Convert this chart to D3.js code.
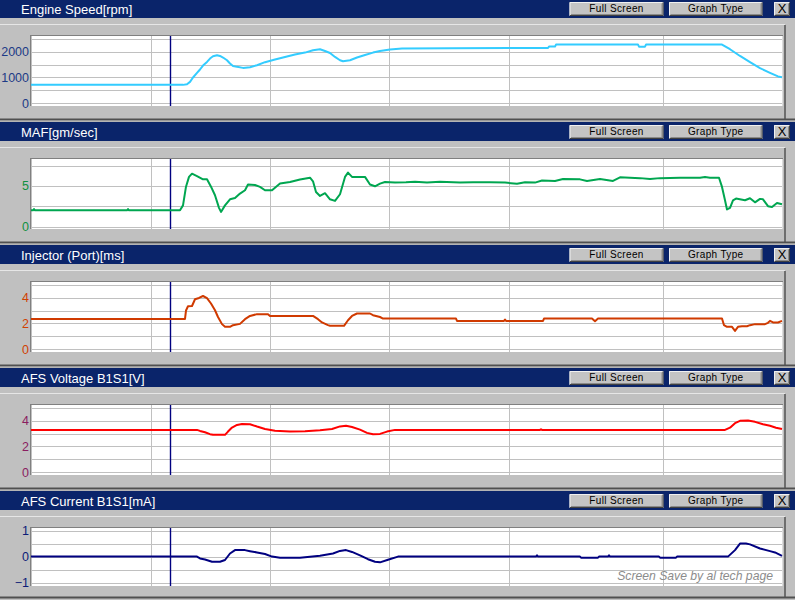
<!DOCTYPE html>
<html><head><meta charset="utf-8">
<script src="https://cdn.jsdelivr.net/npm/d3@7"></script>
<style>
html,body{margin:0;padding:0;background:#c0c0c0;overflow:hidden;}
svg{display:block;font-family:"Liberation Sans",Arial,sans-serif;}
</style></head><body>
<svg id="chart" width="795" height="600"></svg>
<script>
// ---------- data (time in seconds, value in panel units) ----------
const panelTitles = ["Engine Speed[rpm]", "MAF[gm/sec]", "Injector (Port)[ms]", "AFS Voltage B1S1[V]", "AFS Current B1S1[mA]"];
const buttonLabels = ["Full Screen", "Graph Type", "X"];

const engineSpeed = [[0,715],[15.2,715],[15.6,740],[15.9,830],[16.2,1000],[16.6,1177],[16.9,1308],[17.2,1460],[17.6,1600],[17.9,1730],[18.2,1820],[18.6,1858],[18.9,1830],[19.2,1770],[19.6,1665],[19.9,1540],[20.2,1445],[20.6,1410],[21.2,1370],[21.9,1396],[22.6,1473],[23.4,1590],[24.4,1690],[25.4,1790],[26.4,1885],[27.4,1960],[28.2,2050],[28.9,2088],[29.4,2023],[29.9,1946],[30.4,1792],[30.9,1665],[31.2,1627],[31.9,1665],[32.6,1770],[33.4,1870],[34.2,1960],[34.9,2023],[35.9,2077],[37.1,2115],[41.9,2127],[51.7,2138],[51.8,2192],[52.4,2192],[52.5,2269],[60.7,2269],[60.8,2190],[61.4,2190],[61.5,2269],[69.1,2269],[69.9,2090],[70.9,1830],[71.9,1590],[72.9,1360],[73.9,1180],[74.7,1040],[75.1,1010]];

const maf = [[0,2.0],[0.2,2.0],[0.3,2.15],[0.4,2.0],[9.6,2.0],[9.7,2.15],[9.8,2.0],[14.9,2.0],[15.2,2.6],[15.5,4.9],[15.8,6.1],[16.1,6.5],[16.6,6.2],[17.2,5.8],[17.6,5.8],[18.0,4.9],[18.4,3.85],[18.8,2.3],[19.0,1.8],[19.4,2.6],[19.9,3.35],[20.4,3.5],[20.9,4.05],[21.4,4.46],[21.7,5.16],[22.4,5.1],[22.9,4.87],[23.4,4.46],[24.1,4.46],[24.9,5.28],[25.9,5.48],[26.9,5.77],[27.9,6.0],[28.2,5.56],[28.5,4.25],[28.9,3.76],[29.4,4.1],[29.9,3.35],[30.4,3.15],[30.9,3.97],[31.4,6.1],[31.7,6.63],[32.1,6.1],[33.4,6.1],[33.9,5.16],[34.4,4.95],[34.9,5.28],[35.4,5.48],[36.4,5.4],[37.5,5.44],[38.4,5.5],[39.6,5.4],[40.9,5.5],[42.9,5.4],[44.2,5.45],[45.9,5.45],[47.4,5.4],[48.6,5.25],[49.4,5.45],[50.4,5.4],[51.1,5.65],[52.4,5.6],[53.2,5.85],[54.9,5.8],[55.6,5.6],[56.9,5.85],[58.2,5.6],[58.9,6.05],[60.9,5.95],[61.9,5.85],[62.9,5.95],[64.9,6.0],[66.9,6.0],[67.4,6.1],[67.9,6.0],[68.8,6.0],[69.1,4.87],[69.4,3.23],[69.6,2.1],[69.9,2.3],[70.2,3.23],[70.5,3.44],[71.4,3.23],[71.9,3.48],[72.4,2.98],[72.9,3.4],[73.2,3.35],[73.7,2.5],[74.1,2.4],[74.6,2.9],[75.1,2.74]];

const injector = [[0,2.35],[15.4,2.35],[15.5,3.0],[15.7,3.33],[16.1,3.35],[16.4,3.87],[16.8,3.97],[17.2,4.12],[17.6,3.95],[18.0,3.54],[18.4,3.02],[18.7,2.5],[19.1,1.95],[19.4,1.74],[19.9,1.74],[20.2,1.87],[20.9,1.97],[21.4,2.33],[21.9,2.58],[22.6,2.72],[23.7,2.72],[23.9,2.58],[28.2,2.58],[28.7,2.33],[29.1,2.08],[29.7,1.87],[29.9,1.82],[31.3,1.82],[31.7,2.25],[32.1,2.58],[32.6,2.77],[33.9,2.77],[34.2,2.64],[34.9,2.5],[35.2,2.38],[42.5,2.38],[42.6,2.2],[47.3,2.2],[47.4,2.3],[47.5,2.2],[51.2,2.2],[51.3,2.38],[56.1,2.38],[56.4,2.18],[56.7,2.38],[69.1,2.38],[69.3,1.87],[69.6,1.74],[70.1,1.74],[70.4,1.43],[70.7,1.74],[71.1,1.79],[71.6,1.79],[71.9,1.87],[72.4,1.95],[73.4,1.95],[73.7,2.05],[73.9,2.2],[74.2,2.08],[74.7,2.08],[75.1,2.2]];

const afsVoltage = [[0,3.28],[16.6,3.28],[16.9,3.2],[17.4,3.1],[17.9,2.95],[18.2,2.9],[19.4,2.9],[19.7,3.15],[20.1,3.46],[20.6,3.66],[21.1,3.74],[21.9,3.72],[22.6,3.54],[23.4,3.35],[24.4,3.22],[25.9,3.15],[27.4,3.18],[28.9,3.25],[30.1,3.35],[30.9,3.55],[31.5,3.6],[32.1,3.5],[32.9,3.3],[33.6,3.05],[34.2,2.95],[34.9,2.97],[35.6,3.15],[36.4,3.28],[50.9,3.28],[51.0,3.33],[51.1,3.28],[69.4,3.28],[69.9,3.45],[70.4,3.8],[70.9,3.98],[71.7,4.0],[72.4,3.9],[73.2,3.72],[73.9,3.6],[74.5,3.45],[75.1,3.35]];

const afsCurrent = [[0,0],[16.6,0],[16.9,-0.07],[17.4,-0.11],[18.1,-0.2],[18.9,-0.2],[19.4,-0.13],[19.9,0.12],[20.4,0.25],[21.4,0.25],[21.9,0.21],[22.6,0.16],[23.4,0.1],[24.1,0.0],[24.9,-0.04],[26.9,-0.04],[28.9,0.03],[30.2,0.12],[30.9,0.22],[31.5,0.25],[32.1,0.18],[32.9,0.05],[33.7,-0.1],[34.4,-0.2],[34.9,-0.22],[35.7,-0.12],[36.7,0.0],[50.5,0.0],[50.6,0.05],[50.7,0.0],[54.9,0.0],[55.0,-0.04],[56.7,-0.04],[56.8,0.0],[57.7,0.0],[57.8,0.05],[57.9,0.0],[62.8,0.0],[62.9,-0.04],[64.5,-0.04],[64.6,0.0],[69.7,0.0],[70.4,0.25],[70.9,0.5],[71.5,0.5],[71.9,0.47],[72.9,0.31],[73.9,0.21],[74.4,0.16],[75.1,0.03]];

const seriesList = [engineSpeed, maf, injector, afsVoltage, afsCurrent];
const yDomains = [[-100, 2600], [-0.3, 8.3], [-0.2, 5.2], [-0.2, 5.2], [-1.13, 1.1]];
const yTickLabels = [[0, 1000, 2000], [0, 5], [0, 2, 4], [0, 2, 4], [-1, 0, 1]];
const yGridValues = [[0, 500, 1000, 1500, 2000, 2500], [0, 2.5, 5, 7.5], [0, 1, 2, 3, 4, 5], [0, 1, 2, 3, 4, 5], [-1, -0.5, 0, 0.5, 1]];
const timeDomain = [0, 75.1];
const timeGrid = [0, 11.97, 23.93, 35.83, 47.77, 63.17];
const cursorTime = 13.93;
const watermark = "Screen Save by al tech page";

// ---------- styles ----------
const lineColors = ["#33ccff", "#00a650", "#d03a00", "#ff0000", "#000080"];
const labelColors = ["#1c3a86", "#109040", "#d04000", "#8a1c60", "#0c1c78"];

const svg = d3.select("#chart");
const W = 795;
const plotLeft = 31, plotRight = 782;
const x = d3.scaleLinear().domain(timeDomain).range([plotLeft, plotRight]);

svg.append("rect").attr("width", W).attr("height", 600).attr("fill", "#c0c0c0");

function button(g, bx, by, bw, bh, label, fs, ls) {
  g.append("rect").attr("x", bx).attr("y", by).attr("width", bw).attr("height", bh).attr("fill", "#c4c4c4");
  g.append("path").attr("d", `M${bx+0.5},${by+bh-0.5}V${by+0.5}H${bx+bw-0.5}`).attr("stroke", "#f0f0f0").attr("fill", "none");
  g.append("path").attr("d", `M${bx+0.5},${by+bh-0.5}H${bx+bw-0.5}V${by+0.5}`).attr("stroke", "#404040").attr("fill", "none");
  g.append("path").attr("d", `M${bx+1.5},${by+bh-1.5}H${bx+bw-1.5}V${by+1.5}`).attr("stroke", "#8a8a8a").attr("fill", "none");
  g.append("text").attr("x", bx + bw / 2).attr("y", by + bh / 2 + 0.5).attr("text-anchor", "middle")
    .attr("dominant-baseline", "middle").attr("font-size", fs).attr("letter-spacing", ls)
    .attr("fill", "#000").text(label);
}

panelTitles.forEach((title, i) => {
  const plotTop = 36 + 123 * i;
  const h = i === 4 ? 58 : 70;
  const T = plotTop - 37;
  const bottomY = i === 4 ? 597 : T + 120;
  const g = svg.append("g");

  // title bar
  g.append("rect").attr("x", 0).attr("y", T).attr("width", W).attr("height", 19).attr("fill", "#0a246a");
  g.append("text").attr("x", 21).attr("y", T + 14.5).attr("fill", "#fff").attr("font-size", 13).text(title);
  button(g, 569.5, T + 3, 94, 14, buttonLabels[0], 10, 0.35);
  button(g, 669, T + 3, 93.5, 14, buttonLabels[1], 10, 0.35);
  button(g, 774, T + 3, 16, 14, buttonLabels[2], 13, 0);

  // frame
  g.append("line").attr("x1", 0).attr("x2", 785).attr("y1", T + 25.5).attr("y2", T + 25.5).attr("stroke", "#e6e6e6");
  g.append("line").attr("x1", 785).attr("x2", 785).attr("y1", T + 26).attr("y2", bottomY).attr("stroke", "#6e6e6e").attr("stroke-width", 2);
  g.append("line").attr("x1", 0).attr("x2", W).attr("y1", bottomY + 0.5).attr("y2", bottomY + 0.5).attr("stroke", "#505050").attr("stroke-width", 2);
  if (i < 4) g.append("line").attr("x1", 0).attr("x2", W).attr("y1", bottomY + 2).attr("y2", bottomY + 2).attr("stroke", "#a8a8a8");

  // plot area
  g.append("rect").attr("x", plotLeft).attr("y", plotTop).attr("width", plotRight - plotLeft).attr("height", h).attr("fill", "#fff");
  g.append("line").attr("x1", plotLeft - 1).attr("x2", plotRight + 1).attr("y1", plotTop - 0.5).attr("y2", plotTop - 0.5).attr("stroke", "#808080");
  g.append("line").attr("x1", plotLeft - 0.5).attr("x2", plotLeft - 0.5).attr("y1", plotTop - 1).attr("y2", plotTop + h).attr("stroke", "#808080");
  g.append("line").attr("x1", plotRight + 0.5).attr("x2", plotRight + 0.5).attr("y1", plotTop).attr("y2", plotTop + h).attr("stroke", "#dcdcdc");

  const y = d3.scaleLinear().domain(yDomains[i]).range([plotTop + h, plotTop]);

  // horizontal grid
  const hg = g.append("g").attr("transform", `translate(${plotLeft},0)`)
    .call(d3.axisLeft(y).tickValues(yGridValues[i]).tickSize(-(plotRight - plotLeft)).tickFormat(""));
  hg.select(".domain").remove();
  hg.selectAll(".tick line").attr("stroke", "#c0c0c0").attr("shape-rendering", "crispEdges");

  // vertical grid
  const vg = g.append("g").attr("transform", `translate(0,${plotTop + h})`)
    .call(d3.axisBottom(x).tickValues(timeGrid).tickSize(-h).tickFormat(""));
  vg.select(".domain").remove();
  vg.selectAll(".tick line").attr("stroke", "#c0c0c0").attr("shape-rendering", "crispEdges");

  // y labels
  const yl = g.append("g").attr("transform", `translate(${plotLeft},0)`)
    .call(d3.axisLeft(y).tickValues(yTickLabels[i]).tickSize(0).tickPadding(2).tickFormat(d3.format("d")));
  yl.select(".domain").remove();
  yl.selectAll("text").attr("fill", labelColors[i]).attr("font-size", 12.5)
    .attr("font-family", "'Liberation Sans',Arial,sans-serif");

  // cursor
  g.append("line").attr("x1", Math.round(x(cursorTime)) + 0.5).attr("x2", Math.round(x(cursorTime)) + 0.5)
    .attr("y1", plotTop).attr("y2", plotTop + h).attr("stroke", "#000080").attr("stroke-width", 1.4);

  // data line
  const line = d3.line().x(d => x(d[0])).y(d => y(d[1]));
  g.append("path").datum(seriesList[i]).attr("d", line).attr("fill", "none")
    .attr("stroke", lineColors[i]).attr("stroke-width", 2).attr("stroke-linejoin", "round");
});

svg.append("text").attr("x", 773).attr("y", 580).attr("text-anchor", "end")
  .attr("font-size", 12.2).attr("font-style", "italic").attr("fill", "#8c8c8c").text(watermark);
</script>
</body></html>
